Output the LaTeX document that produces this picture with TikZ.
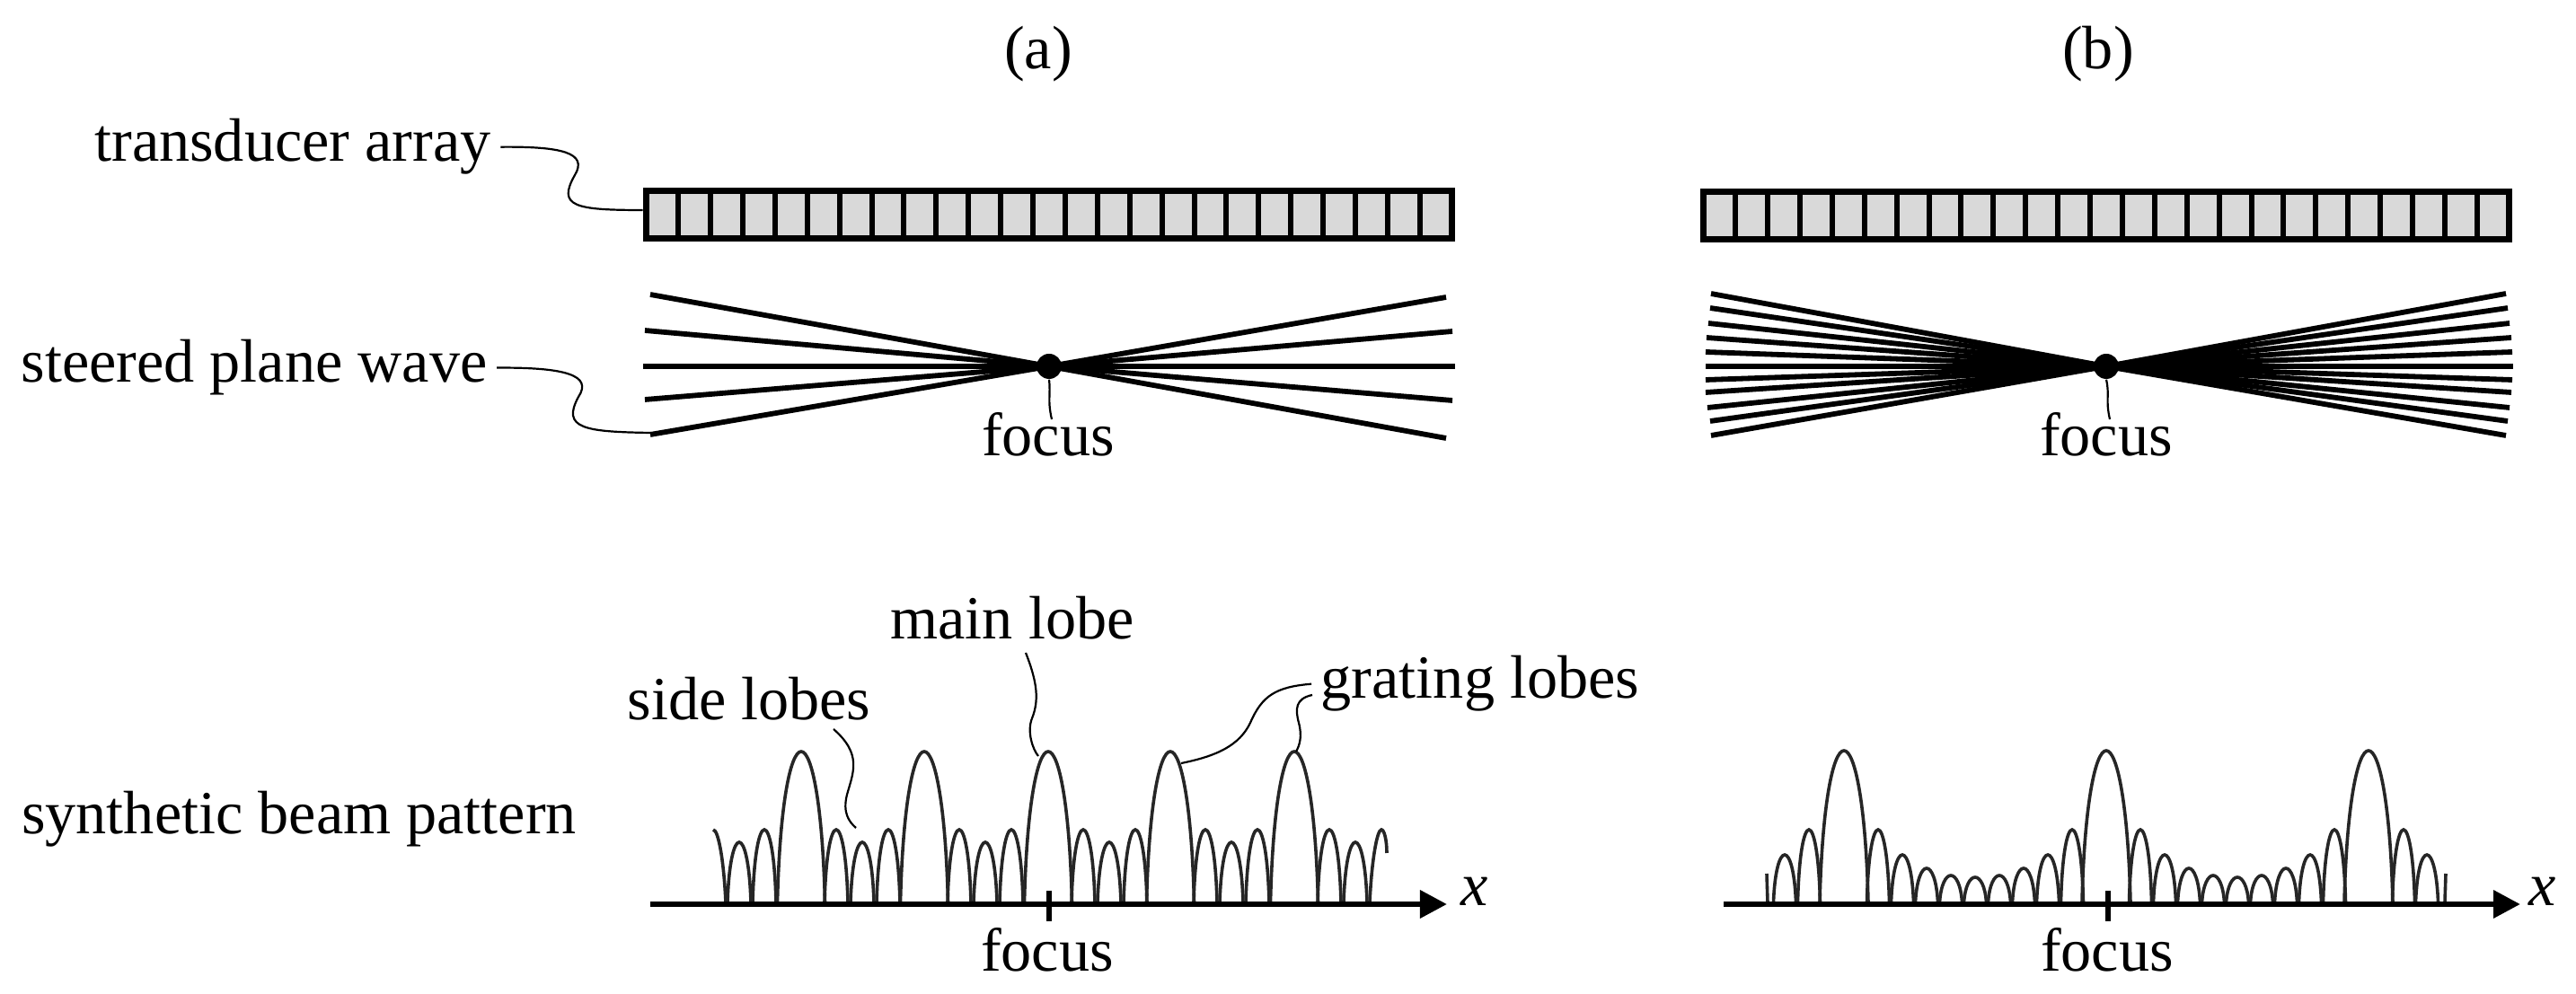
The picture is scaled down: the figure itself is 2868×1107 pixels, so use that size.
\documentclass[tikz,border=0pt]{standalone}
\usepackage{fontspec}
\setmainfont{Liberation Serif}
\usetikzlibrary{arrows.meta}
\tikzset{d/.style={line width=0.06cm}}
\newcommand{\lobe}[3]{\draw[lobe] ({(#1)-(#2)},1005) .. controls ({(#1)-0.9*(#2)},{(#3)+0.35*(1005-(#3))}) and ({(#1)-0.45*(#2)},#3) .. ({#1},#3) .. controls ({(#1)+0.45*(#2)},#3) and ({(#1)+0.9*(#2)},{(#3)+0.35*(1005-(#3))}) .. ({(#1)+(#2)},1005);}

\begin{document}
\begin{tikzpicture}[
x=0.01cm,y=-0.01cm,
label/.style={font=\fontsize{19.4}{22}\selectfont, anchor=base, inner sep=0.1cm},
array/.style={rectangle, draw=black, fill=black!15, line width=0.07cm, inner sep=0pt, minimum width=8.97cm, minimum height=0.52cm},
dot/.style={circle, fill=black, inner sep=0pt, minimum size=0.28cm},
ray/.style={line width=0.058cm},
leader/.style={line width=0.022cm},
lobe/.style={line width=0.036cm, draw=black!85},
axis/.style={line width=0.065cm, -{Triangle[length=0.3cm,width=0.3cm]}},
]
\useasboundingbox (0,0) rectangle (2868,1107);

%Nodes
\node[label] (titleA) at (1156,77) {(a)};
\node[label] (titleB) at (2336,77) {(b)};
\node[label] (arrayLabel) at (326,180) {transducer array};
\node[label] (waveLabel) at (283,426) {steered plane wave};
\node[label] (beamLabel) at (333,929) {synthetic beam pattern};
\node[label] (focusTopA) at (1167,508) {focus};
\node[label] (focusTopB) at (2345,508) {focus};
\node[label] (sideLabel) at (834,802) {side lobes};
\node[label] (mainLabel) at (1127,712) {main lobe};
\node[label] (gratingLabel) at (1648,778) {grating lobes};
\node[label] (focusA) at (1166,1082) {focus};
\node[label] (focusB) at (2346,1082) {focus};
\node[array] (arrayA) at (1168,239) {};
\node[array] (arrayB) at (2345,240) {};
\node[dot] (dotA) at (1168,408) {};
\node[dot] (dotB) at (2345,408) {};
\coordinate (axisStartA) at (724,1007);
\coordinate (axisEndA) at (1611,1007);
\coordinate (axisStartB) at (1919,1007);
\coordinate (axisEndB) at (2806,1007);
\node[label, font=\fontsize{19.4}{22}\selectfont\itshape] (xA) at (1642,1009) {x};
\node[label, font=\fontsize{19.4}{22}\selectfont\itshape] (xB) at (2831,1009) {x};
\coordinate (waveEnd) at (725,482);

%Array elements
\foreach \i in {-11,...,12}{
\draw[d] ({1168+(\i-0.5)*35.9},212) -- ({1168+(\i-0.5)*35.9},266);
\draw[d] ({2345+(\i-0.5)*35.9},213) -- ({2345+(\i-0.5)*35.9},267);
}

%Rays
\foreach \xe/\ye in {724/328,718/368,716/408,718/445,724/484,1610/331,1617/369,1620/408,1617/446,1610/488}{
\draw[ray] (\xe,\ye) -- (dotA.center);
}
\foreach \xe/\ye in {1905/327,1904/343,1902/360,1900/376,1899/392,1899/408,1899/423,1899/437,1901/454,1904/469,1905/485,2790/327,2792/343,2794/360,2796/376,2797/392,2798/408,2797/423,2796/437,2794/454,2792/469,2790/485}{
\draw[ray] (\xe,\ye) -- (dotB.center);
}

%Lobes, case (a)
\foreach \c in {892,1029,1167,1303,1441}{
\lobe{\c}{26.5}{837}
\lobe{\c+39}{13}{924}
\lobe{\c+68}{13}{938}
}
\foreach \c in {892,1029,1167,1303}{
\lobe{\c+97}{13}{924}
}
\draw[lobe] (794,924) .. controls (800,924) and (806,960) .. (808,1005);
\lobe{823}{13}{938}
\lobe{851}{13}{924}
\draw[lobe] (1525,1005) .. controls (1527,960) and (1533,924) .. (1538,924) .. controls (1541,924) and (1544,935) .. (1544,950);

%Lobes, case (b)
\foreach \c in {2053,2345,2637}{
\lobe{\c}{27}{836}
}
\foreach \c in {2053,2345}{
\foreach \dx/\t in {38/924,65/952,92/967,119/975,146/977,173/975,200/967,227/952,254/924}{
\lobe{\c+\dx}{12.5}{\t}
}
}
\lobe{2014}{12.5}{924}
\lobe{1987}{12.5}{952}
\lobe{2676}{12.5}{924}
\lobe{2702}{12.5}{952}
\draw[lobe] (1967,973) -- (1968,1005);
\draw[lobe] (2723,973) -- (2722,1005);

%Axes
\draw[axis] (axisStartA) -- (axisEndA);
\draw[axis] (axisStartB) -- (axisEndB);
\draw[d] (1168,992) -- (1168,1026);
\draw[d] (2347,992) -- (2347,1026);

%Lines
\draw[leader] (arrayLabel.east) .. controls (625,163) and (655,170) .. (640,195) .. controls (620,230) and (640,234) .. ([yshift=0.05cm]arrayA.west);
\draw[leader] (waveLabel.east) .. controls (630,409) and (660,418) .. (644,442) .. controls (625,477) and (650,481) .. (waveEnd);
\draw[leader] (dotA.south) .. controls (1170,440) and (1166,445) .. (1171,467);
\draw[leader] (dotB.south) .. controls (2349,440) and (2344,445) .. (2349,467);
\draw[leader] (928,812) .. controls (960,840) and (950,860) .. (943,885) .. controls (938,905) and (945,915) .. (953,922);
\draw[leader] (1142,727) .. controls (1155,760) and (1157,780) .. (1149,800) .. controls (1143,815) and (1150,835) .. (1156,842);
\draw[leader] (gratingLabel.west) .. controls (1420,765) and (1405,775) .. (1392,805) .. controls (1380,830) and (1355,842) .. (1315,850);
\draw[leader] (1461,774) .. controls (1442,778) and (1442,790) .. (1446,805) .. controls (1450,820) and (1447,830) .. (1443,837);
\end{tikzpicture}
\end{document}
